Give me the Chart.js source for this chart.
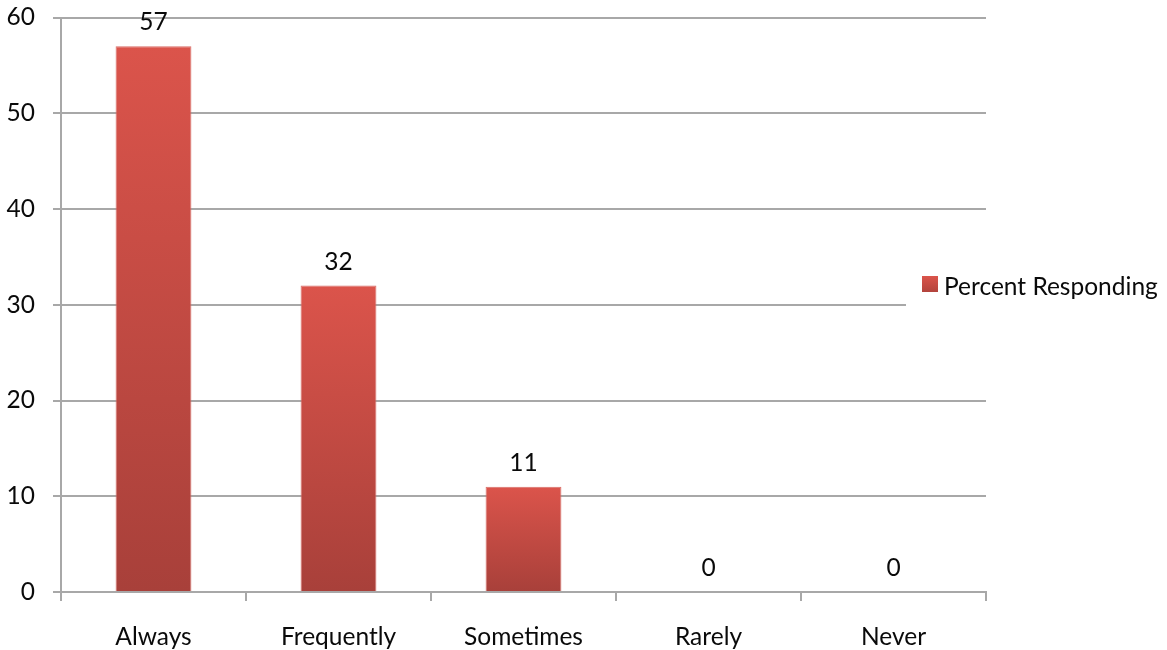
<!DOCTYPE html>
<html>
<head>
<meta charset="utf-8">
<title>Percent Responding</title>
<script src="https://cdn.jsdelivr.net/npm/chart.js@4/dist/chart.umd.min.js"></script>
<style>
  html, body { margin: 0; padding: 0; background: #fff; }
  #wrap { width: 1167px; height: 650px; }
</style>
</head>
<body>
<div id="wrap"><canvas id="chart" width="1167" height="650"></canvas></div>
<script>
const categories = ['Always', 'Frequently', 'Sometimes', 'Rarely', 'Never'];
const percentResponding = [57, 32, 11, 0, 0];
const seriesName = 'Percent Responding';
const yTicks = [0, 10, 20, 30, 40, 50, 60];

const FONT = 'Lato, "Open Sans", sans-serif';
const FONT_SIZE = 24.5;
const TEXT = '#0a0a0a';
const GRID = '#a8a8a8';

// red bars shading darker toward the baseline
function barFill(ctx) {
  const chart = ctx.chart;
  if (!chart.chartArea || ctx.type !== 'data') return '#c94a42';
  const y = chart.scales.y;
  const top = y.getPixelForValue(ctx.raw);
  const bottom = y.getPixelForValue(0);
  if (bottom - top < 1) return '#c94a42';
  const g = chart.ctx.createLinearGradient(0, top, 0, bottom);
  g.addColorStop(0, '#db544b');
  g.addColorStop(1, '#a8403a');
  return g;
}

// value above each bar
const valueLabels = {
  id: 'valueLabels',
  afterDatasetsDraw(chart) {
    const c = chart.ctx;
    const meta = chart.getDatasetMeta(0);
    c.save();
    c.font = FONT_SIZE + 'px ' + FONT;
    c.fillStyle = TEXT;
    c.textAlign = 'center';
    c.textBaseline = 'alphabetic';
    meta.data.forEach((bar, i) => {
      c.fillText(String(percentResponding[i]), bar.x, bar.y - 16);
    });
    c.restore();
  }
};

// legend sitting over the right end of the plot
const sideLegend = {
  id: 'sideLegend',
  afterDraw(chart) {
    const c = chart.ctx;
    c.save();
    c.fillStyle = '#fff';
    c.fillRect(906, 262, 261, 48);
    const g = c.createLinearGradient(0, 276, 0, 293);
    g.addColorStop(0, '#db544b');
    g.addColorStop(1, '#b0433c');
    c.fillStyle = g;
    c.fillRect(922, 276, 16, 16);
    c.font = FONT_SIZE + 'px ' + FONT;
    c.fillStyle = TEXT;
    c.textBaseline = 'middle';
    c.fillText(seriesName, 944, 287);
    c.restore();
  }
};

new Chart(document.getElementById('chart'), {
  type: 'bar',
  data: {
    labels: categories,
    datasets: [{
      label: seriesName,
      data: percentResponding,
      backgroundColor: barFill,
      borderColor: '#d86d67',
      borderWidth: 1,
      categoryPercentage: 0.41,
      barPercentage: 1
    }]
  },
  options: {
    responsive: false,
    animation: false,
    layout: { padding: { top: 17.5, right: 181, left: 0, bottom: 0 } },
    plugins: {
      legend: { display: false },
      tooltip: { enabled: false }
    },
    scales: {
      x: {
        offset: true,
        grid: {
          offset: true,
          drawOnChartArea: false,
          color: GRID,
          lineWidth: 2,
          tickLength: 9
        },
        border: { color: GRID, width: 2 },
        ticks: {
          color: TEXT,
          font: { family: FONT, size: FONT_SIZE },
          padding: 21,
          maxRotation: 0
        },
        afterFit(scale) { scale.height = 58; }
      },
      y: {
        min: 0,
        max: 60,
        afterBuildTicks(scale) { scale.ticks = yTicks.map(v => ({ value: v })); },
        grid: {
          color: GRID,
          lineWidth: 2,
          tickLength: 8
        },
        border: { color: GRID, width: 2 },
        ticks: {
          color: TEXT,
          font: { family: FONT, size: FONT_SIZE },
          padding: 18
        },
        afterFit(scale) {
          scale.width = 61;
          scale.paddingTop = 0;
          scale.paddingBottom = 0;
        }
      }
    }
  },
  plugins: [valueLabels, sideLegend]
});
</script>
</body>
</html>
